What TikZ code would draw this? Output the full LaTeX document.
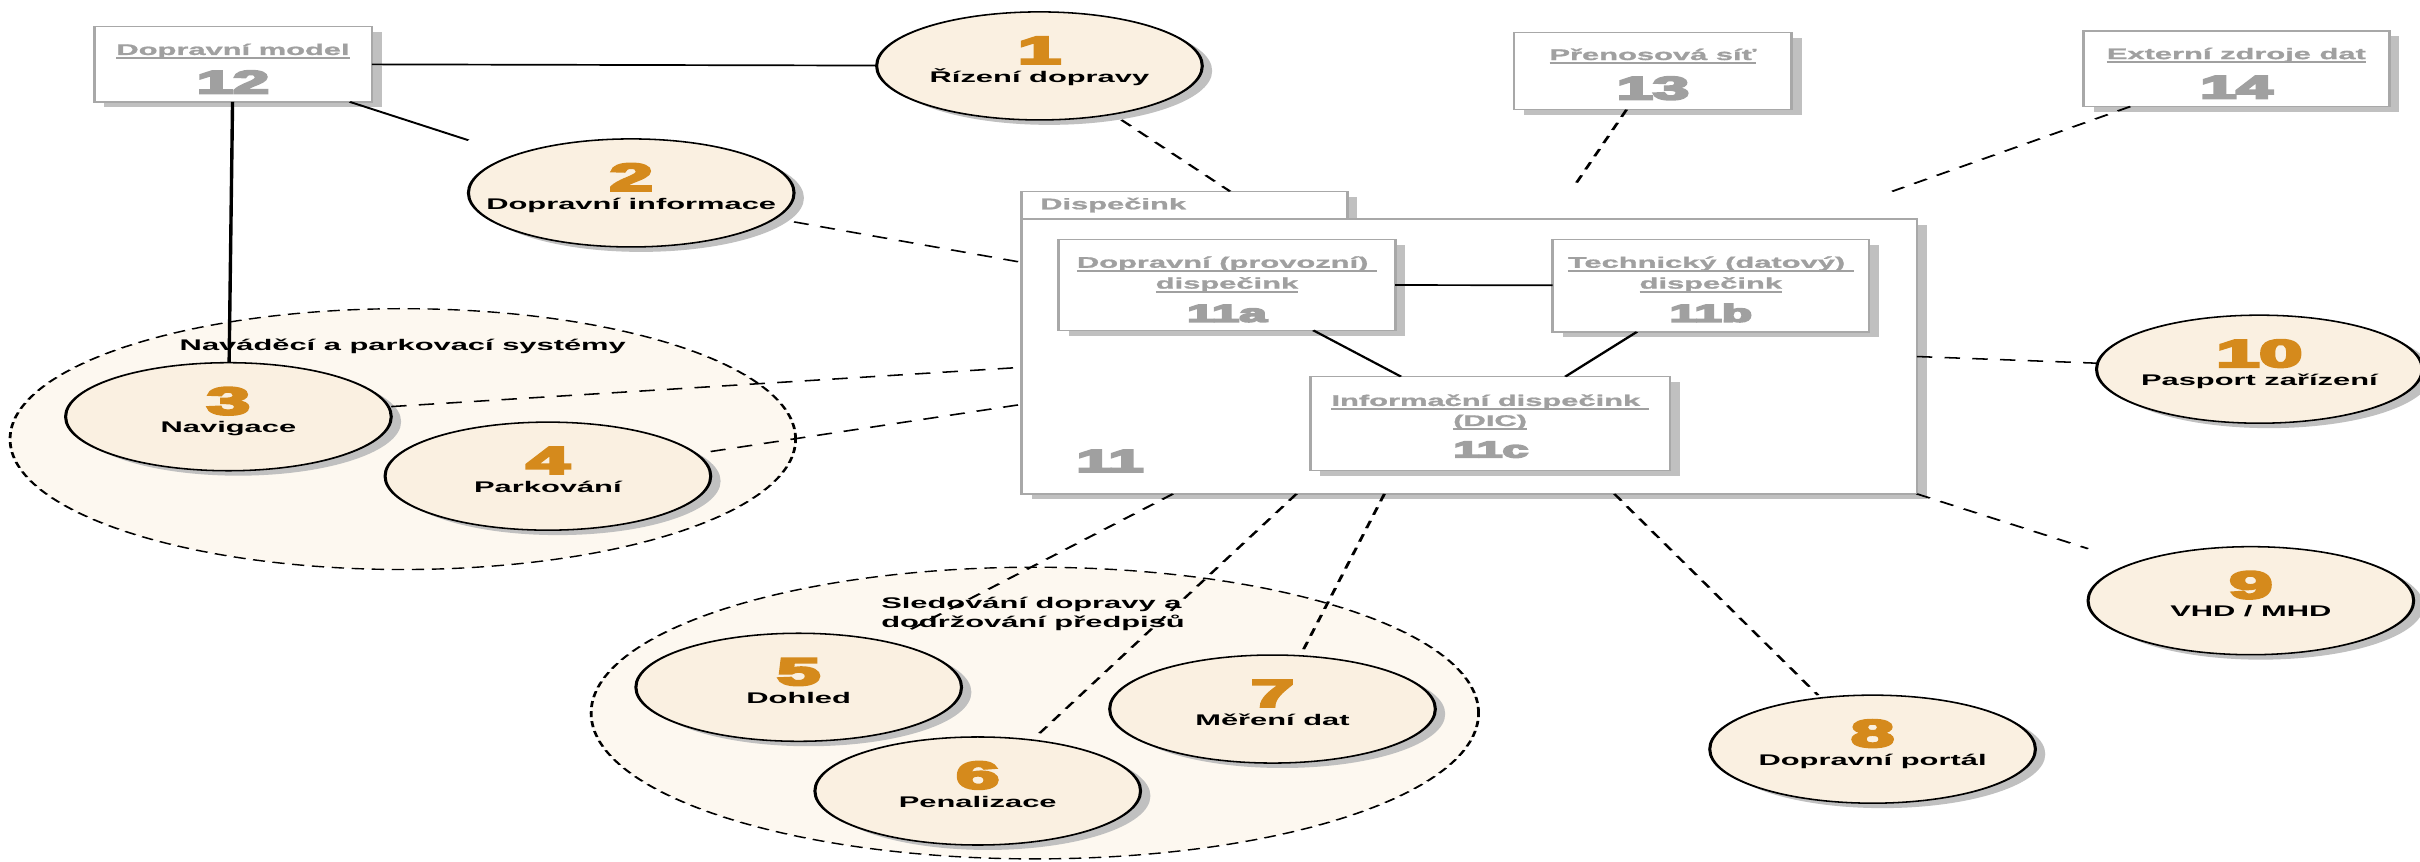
\documentclass[tikz,border=0pt]{standalone}
\usepackage{fontspec}
\setmainfont{Liberation Sans}
\newfontfamily\numfont[FakeBold=6]{Liberation Sans Bold}
\newfontfamily\boxfont[FakeBold=1]{Liberation Sans Bold}
\usetikzlibrary{shadows}
\definecolor{bubfill}{RGB}{250,240,225}
\definecolor{grpfill}{RGB}{253,248,240}
\definecolor{numorange}{RGB}{213,138,28}
\definecolor{boxtext}{RGB}{160,160,160}
\definecolor{boxline}{RGB}{168,168,168}
\definecolor{shadowgray}{RGB}{192,192,192}
\newcommand\gul[1]{\leavevmode\setbox0=\hbox{#1}\rlap{\rule[-2.6pt]{\wd0}{1.1pt}}\box0}
\tikzset{
  bub/.style={draw=black, line width=1pt, fill=bubfill,
    drop shadow={shadow xshift=3.2pt, shadow yshift=-3.2pt, fill=shadowgray, opacity=1}},
  bubbox/.style={rectangle, minimum width=105.5pt, minimum height=70pt, inner sep=0pt, outer sep=0pt},
  grp/.style={draw=black, line width=0.9pt, dash pattern=on 4pt off 2.5pt, fill=grpfill},
  gbox/.style={rectangle, draw=boxline, line width=0.9pt, fill=white, inner sep=0pt, outer sep=0pt,
    drop shadow={shadow xshift=3.25pt, shadow yshift=-3.5pt, fill=shadowgray, opacity=1}},
  conn/.style={line width=1.1pt},
  dconn/.style={line width=1pt, dash pattern=on 5pt off 4pt},
  numlbl/.style={font=\numfont\fontsize{25}{25}\selectfont, text=numorange, inner sep=0pt, anchor=base},
  txtlbl/.style={font=\bfseries\fontsize{10}{12}\selectfont, inner sep=0pt, anchor=base},
  boxlbl/.style={font=\boxfont\fontsize{10}{12}\selectfont, text=boxtext, inner sep=0pt, anchor=base},
  boxnum/.style={font=\numfont\fontsize{21}{21}\selectfont, text=boxtext, inner sep=0pt, anchor=base},
}
\newcommand\bubble[5]{%
  \path[bub] (#2,#3) ellipse [x radius=52.75pt, y radius=35pt];
  \node[bubbox] (#1) at (#2,#3) {};
  \node[numlbl] (#1n) at ([yshift=1.5pt]#1.center) {#4};
  \node[txtlbl] (#1t) at ([yshift=-10.5pt]#1.center) {#5};
}
\begin{document}
\begin{tikzpicture}
\fill[white] (0,0) rectangle (1568pt,-558pt);
\useasboundingbox (0,0) rectangle (1568pt,-558pt);
\begin{scope}[transform canvas={xscale=2}, x=0.5pt, y=-1pt]
% groups
\path[grp] (261,284.5) ellipse [x radius=127.25pt, y radius=84.5pt];
\path[grp] (670.5,462) ellipse [x radius=143.75pt, y radius=94.5pt];
\node[txtlbl] (g1l) at (261,226.8) {Naváděcí a parkovací systémy};
\node[txtlbl, anchor=base west] (g2l1) at (570.6,394.3) {Sledování dopravy a};
\node[txtlbl, anchor=base west] (g2l2) at (570.6,406.6) {dodržování předpisů};
% bubbles
\bubble{e1}{673.5}{42.7}{1}{Řízení dopravy}
\bubble{e2}{409}{125}{2}{Dopravní informace}
\bubble{e3}{148}{270}{3}{Navigace}
\bubble{e4}{355}{308.5}{4}{Parkování}
\bubble{e5}{517.5}{445.3}{5}{Dohled}
\bubble{e6}{633.5}{512.5}{6}{Penalizace}
\bubble{e7}{824.5}{459.4}{7}{Měření dat}
\bubble{e8}{1213.3}{485.4}{8}{Dopravní portál}
\bubble{e9}{1458.4}{389.2}{9}{VHD / MHD}
\bubble{e10}{1463.9}{239.2}{10}{Pasport zařízení}
% boxes
\node[gbox, minimum width=90pt, minimum height=49pt] (b12) at (151,41.5) {};
\node[boxlbl] (b12l) at (151,35.6) {\gul{Dopravní model}};
\node[boxnum] (b12n) at (151,60.5) {12};
\node[gbox, minimum width=90pt, minimum height=50pt] (b13) at (1071,46) {};
\node[boxlbl] (b13l) at (1071,38.9) {\gul{Přenosová síť}};
\node[boxnum] (b13n) at (1071,64.4) {13};
\node[gbox, minimum width=99pt, minimum height=49pt] (b14) at (1449,44.5) {};
\node[boxlbl] (b14l) at (1449,38.3) {\gul{Externí zdroje dat}};
\node[boxnum] (b14n) at (1449,63.7) {14};
\node[gbox, minimum width=105.5pt, minimum height=18pt] (tab) at (767.5,133) {};
\node[boxlbl, anchor=base west] (tabl) at (673.6,135.6) {Dispečink};
\node[gbox, minimum width=290pt, minimum height=178pt] (b11) at (952,231) {};
\node[boxnum, anchor=base west, font=\numfont\fontsize{20.5}{20.5}\selectfont] (b11n) at (697.2,305.7) {11};
\node[gbox, minimum width=109pt, minimum height=59pt] (b11a) at (795,184.5) {};
\node[boxlbl] (b11al1) at (795,173.5) {\gul{Dopravní (provozní) }};
\node[boxlbl] (b11al2) at (795,187) {\gul{dispečink}};
\node[boxnum, font=\numfont\fontsize{16}{16}\selectfont] (b11an) at (795,208.5) {11a};
\node[gbox, minimum width=102.5pt, minimum height=60pt] (b11b) at (1108.5,185) {};
\node[boxlbl] (b11bl1) at (1108.5,173.5) {\gul{Technický (datový) }};
\node[boxlbl] (b11bl2) at (1108.5,187) {\gul{dispečink}};
\node[boxnum, font=\numfont\fontsize{16}{16}\selectfont] (b11bn) at (1108.5,208.5) {11b};
\node[gbox, minimum width=116.5pt, minimum height=61pt] (b11c) at (965.5,274.5) {};
\node[boxlbl] (b11cl1) at (965.5,263) {\gul{Informační dispečink }};
\node[boxlbl] (b11cl2) at (965.5,276) {\gul{(DIC)}};
\node[boxnum, font=\numfont\fontsize{15}{15}\selectfont] (b11cn) at (966,296.4) {11c};
% free ends
\coordinate (c13) at (1019,122);
\coordinate (c14) at (1226,124);
% connectors
\draw[conn] (b12) -- (e1);
\draw[conn] (b12) -- (e2);
\draw[conn] (b12) -- (e3);
\draw[conn] (b11a) -- (b11b);
\draw[conn] (b11a) -- (b11c);
\draw[conn] (b11b) -- (b11c);
\draw[dconn] (e1) -- ([xshift=14.75pt]tab.north);
\draw[dconn] (e2) -- ([yshift=61pt]b11.west);
\draw[dconn] (e3) -- ([yshift=-7pt]b11.west);
\draw[dconn] (e4) -- ([yshift=-31pt]b11.west);
\draw[dconn] (b13) -- (c13);
\draw[dconn] (b14) -- (c14);
\draw[dconn] (b11.east) -- (e10);
\draw[dconn] (b11.south east) -- (e9);
\draw[dconn] ([xshift=47pt]b11.south) -- (e8);
\draw[dconn] ([xshift=-27.5pt]b11.south) -- (e7);
\draw[dconn] ([xshift=-56pt]b11.south) -- (e6);
\draw[dconn] ([xshift=-96pt]b11.south) -- (e5);
\end{scope}
\end{tikzpicture}
\end{document}
